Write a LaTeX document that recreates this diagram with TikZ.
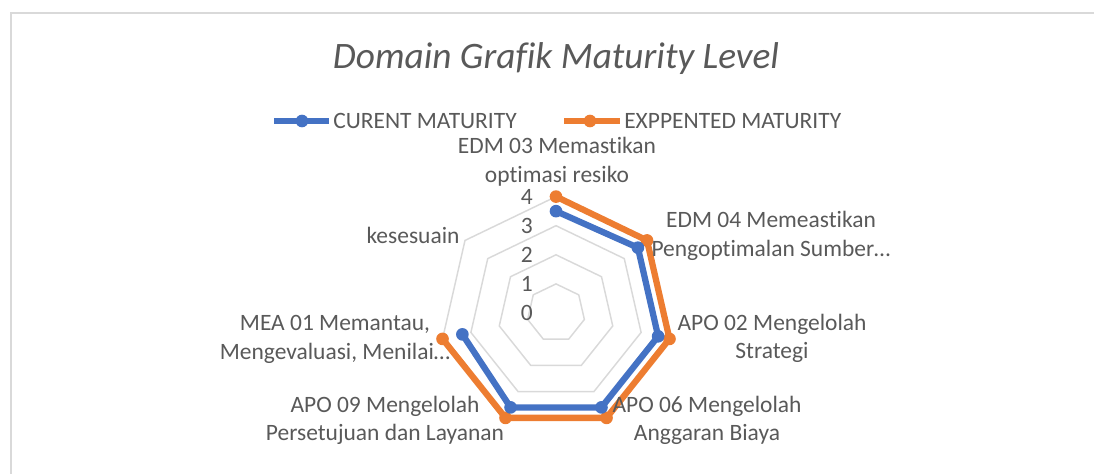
\documentclass[tikz,border=0pt]{standalone}
\usepackage{fontspec}
\setmainfont{Carlito}[Ligatures={NoCommon}]
\usepackage{tikz}
\usetikzlibrary{positioning,calc}
\definecolor{gridgray}{RGB}{217,217,217}
\definecolor{txtgray}{RGB}{89,89,89}
\definecolor{curblue}{RGB}{68,114,196}
\definecolor{exporange}{RGB}{237,125,49}
\tikzstyle{axislabel} = [text=txtgray, font=\fontsize{17.6}{21.5}\selectfont, align=center, inner sep=0pt]
\tikzstyle{ring} = [draw=gridgray, line width=1.1pt, line join=miter]
\tikzstyle{series} = [line width=4.7pt, line join=round]
\tikzstyle{dot} = [circle, inner sep=0pt, minimum size=9.5pt]

\begin{document}
\begin{tikzpicture}[x=0.75pt, y=-0.75pt]
\useasboundingbox (0,0) rectangle (1094,474);
% Frame
\draw[gridgray, line width=1.1pt] (1094,13) -- (11,13) -- (11,474);

% Title
\node[text=txtgray, font=\fontsize{28}{33}\selectfont\itshape] (title) at (556,59) {Domain Grafik Maturity Level};

% Legend
\node[axislabel, anchor=west] (legcur) at (333,121) {CURENT MATURITY};
\node[axislabel, anchor=west] (legexp) at (624,121) {EXPPENTED MATURITY};
\draw[series, curblue] (legcur.west) ++(-59,0) -- ++(55,0);
\node[dot, fill=curblue] (legcurdot) at (302,121) {};
\draw[series, exporange] (legexp.west) ++(-60,0) -- ++(56,0);
\node[dot, fill=exporange] (legexpdot) at (590,121) {};

% Radar
\begin{scope}[shift={(556,313)}]
  \coordinate (c) at (0,0);
  % Rings
  \foreach \r in {1,...,4}
    \draw[ring] (-90:\r*29.1) \foreach \k in {1,...,6}{ -- (-90+\k*360/7:\r*29.1)} -- cycle;

  % Data points
  \foreach \v [count=\k from 0] in {3.5,3.6,3.6,3.6,3.6,3.3}
    \coordinate (cur\k) at (-90+\k*360/7:\v*29.1);
  \foreach \v [count=\k from 0] in {4,4,4,4,4,4}
    \coordinate (exp\k) at (-90+\k*360/7:\v*29.1);

  % Series
  \draw[series, exporange] (exp0) -- (exp1) -- (exp2) -- (exp3) -- (exp4) -- (exp5);
  \draw[series, curblue] (cur0) -- (cur1) -- (cur2) -- (cur3) -- (cur4) -- (cur5);
  \foreach \k in {0,...,5}{
    \node[dot, fill=exporange] (expdot\k) at (exp\k) {};
    \node[dot, fill=curblue] (curdot\k) at (cur\k) {};
  }
\end{scope}

% Value labels
\foreach \v in {0,...,4}
  \node[axislabel, anchor=east] (tick\v) at (533,313-\v*29.1) {\v};

% Axis labels
\node[axislabel] (edm03) at (557,161.5) {EDM 03 Memastikan\\optimasi resiko};
\node[axislabel] (edm04) at (771,236) {EDM 04 Memeastikan\\Pengoptimalan Sumber…};
\node[axislabel] (apo02) at (772,338.5) {APO 02 Mengelolah\\Strategi};
\node[axislabel] (apo06) at (707,420.5) {APO 06 Mengelolah\\Anggaran Biaya};
\node[axislabel] (apo09) at (385,420.5) {APO 09 Mengelolah\\Persetujuan dan Layanan};
\node[axislabel] (mea01) at (335,339.5) {MEA 01 Memantau,\\Mengevaluasi, Menilai…};
\node[axislabel] (kesesuain) at (413,235) {kesesuain};
\end{tikzpicture}
\end{document}
